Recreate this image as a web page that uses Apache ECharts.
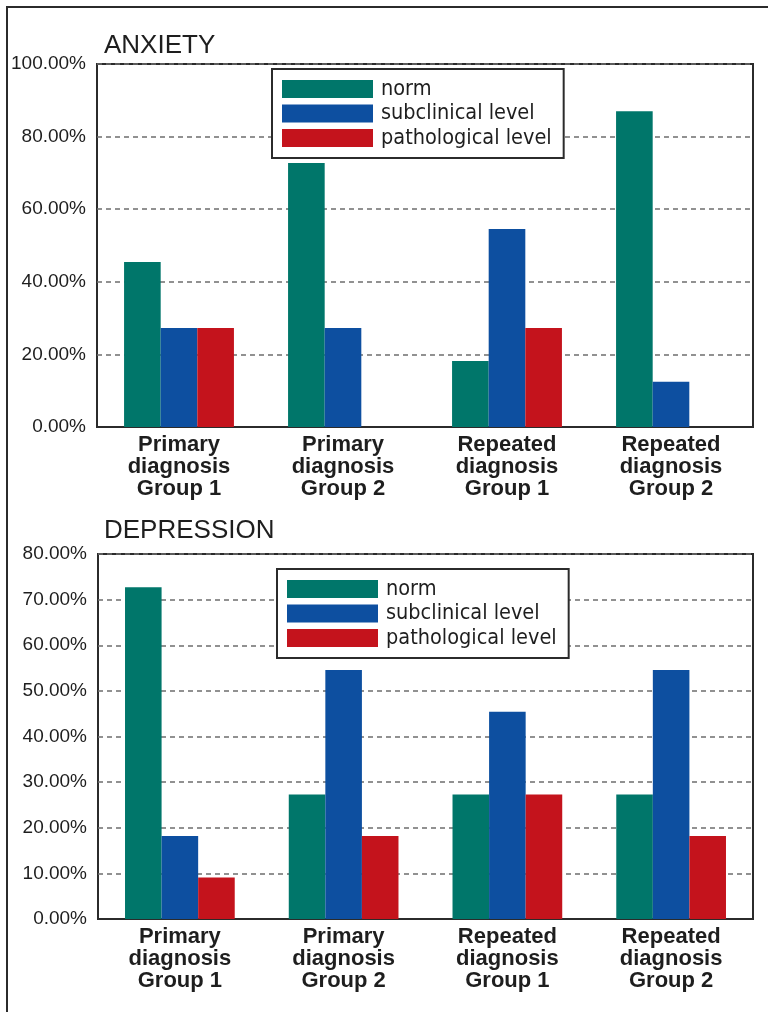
<!DOCTYPE html>
<html>
<head>
<meta charset="utf-8">
<script src="https://cdn.jsdelivr.net/npm/echarts@6/dist/echarts.min.js"></script>
<style>
  html, body { margin: 0; padding: 0; background: #fff; }
  #chart { width: 768px; height: 1012px; }
</style>
</head>
<body>
<div id="chart"></div>
<script>
// Groups compared in both panels
const categories = [
  'Primary\ndiagnosis\nGroup 1',
  'Primary\ndiagnosis\nGroup 2',
  'Repeated\ndiagnosis\nGroup 1',
  'Repeated\ndiagnosis\nGroup 2'
];
const seriesNames = ['norm', 'subclinical level', 'pathological level'];

// Anxiety shares, %
const anxietyNorm = [45.45, 72.73, 18.18, 87.0];
const anxietySubclinical = [27.27, 27.27, 54.55, 12.5];
const anxietyPathological = [27.27, 0, 27.27, 0];

// Depression shares, %
const depressionNorm = [72.73, 27.27, 27.27, 27.27];
const depressionSubclinical = [18.18, 54.55, 45.45, 54.55];
const depressionPathological = [9.09, 18.18, 27.27, 18.18];

// Axis ranges
const anxietyAxis = { max: 100, step: 20 };
const depressionAxis = { max: 80, step: 10 };

const colors = ['#00766a', '#0d4fa0', '#c4131c'];
const sansFont = '"Liberation Sans", Arial, Helvetica, sans-serif';
const legendFont = '"DejaVu Sans Condensed", "DejaVu Sans", sans-serif';
const dark = '#2b2b2b';
const ink = '#1e1e1e';

const chart = echarts.init(document.getElementById('chart'), null, { renderer: 'canvas' });

function xAxis(gridIndex) {
  return {
    type: 'category',
    gridIndex,
    data: categories,
    axisTick: { show: false },
    axisLine: { show: true, lineStyle: { color: dark, width: 2 } },
    axisLabel: {
      interval: 0,
      margin: 7,
      color: ink,
      fontFamily: sansFont,
      fontWeight: 'bold',
      fontSize: 22,
      lineHeight: 22
    }
  };
}

function yAxis(gridIndex, cfg) {
  return {
    type: 'value',
    gridIndex,
    min: 0,
    max: cfg.max,
    interval: cfg.step,
    axisLine: { show: false },
    axisTick: { show: false },
    axisLabel: {
      margin: 11,
      color: ink,
      fontFamily: sansFont,
      fontSize: 19,
      formatter: v => v.toFixed(2) + '%'
    },
    splitLine: {
      show: true,
      lineStyle: { color: '#6e6e6e', width: 1.5, type: [5, 4] }
    }
  };
}

function bars(values, idx, axisIndex) {
  return {
    type: 'bar',
    name: seriesNames[idx],
    xAxisIndex: axisIndex,
    yAxisIndex: axisIndex,
    data: values,
    barGap: '0%',
    barCategoryGap: '33%',
    itemStyle: { color: colors[idx] },
    emphasis: { disabled: true }
  };
}

function legend(left, top) {
  return {
    left, top,
    orient: 'vertical',
    data: seriesNames,
    icon: 'rect',
    itemWidth: 91,
    itemHeight: 18,
    itemGap: 2.5,
    padding: [9, 12, 9, 10],
    borderColor: dark,
    borderWidth: 2,
    backgroundColor: '#fff',
    selectedMode: false,
    textStyle: {
      fontFamily: legendFont,
      fontSize: 21.5,
      color: ink,
      lineHeight: 18,
      padding: [0, 0, 0, 3]
    }
  };
}

const titleStyle = { fontFamily: sansFont, fontWeight: 'normal', fontSize: 26, color: ink };

const option = {
  animation: false,
  title: [
    { text: 'ANXIETY', left: 99, top: 28, textStyle: titleStyle },
    { text: 'DEPRESSION', left: 99, top: 513, textStyle: titleStyle }
  ],
  grid: [
    { left: 97, top: 64, right: 15, height: 363, show: true, borderColor: dark, borderWidth: 2, containLabel: false },
    { left: 98, top: 554, right: 15, height: 365, show: true, borderColor: dark, borderWidth: 2, containLabel: false }
  ],
  legend: [legend(272, 69), legend(277, 569)],
  xAxis: [xAxis(0), xAxis(1)],
  yAxis: [yAxis(0, anxietyAxis), yAxis(1, depressionAxis)],
  series: [
    bars(anxietyNorm, 0, 0),
    bars(anxietySubclinical, 1, 0),
    bars(anxietyPathological, 2, 0),
    bars(depressionNorm, 0, 1),
    bars(depressionSubclinical, 1, 1),
    bars(depressionPathological, 2, 1)
  ],
  graphic: [
    { type: 'polyline', shape: { points: [[7, 1012], [7, 7], [768, 7]] },
      style: { stroke: dark, lineWidth: 2, fill: null }, silent: true }
  ]
};

chart.setOption(option);
</script>
</body>
</html>
